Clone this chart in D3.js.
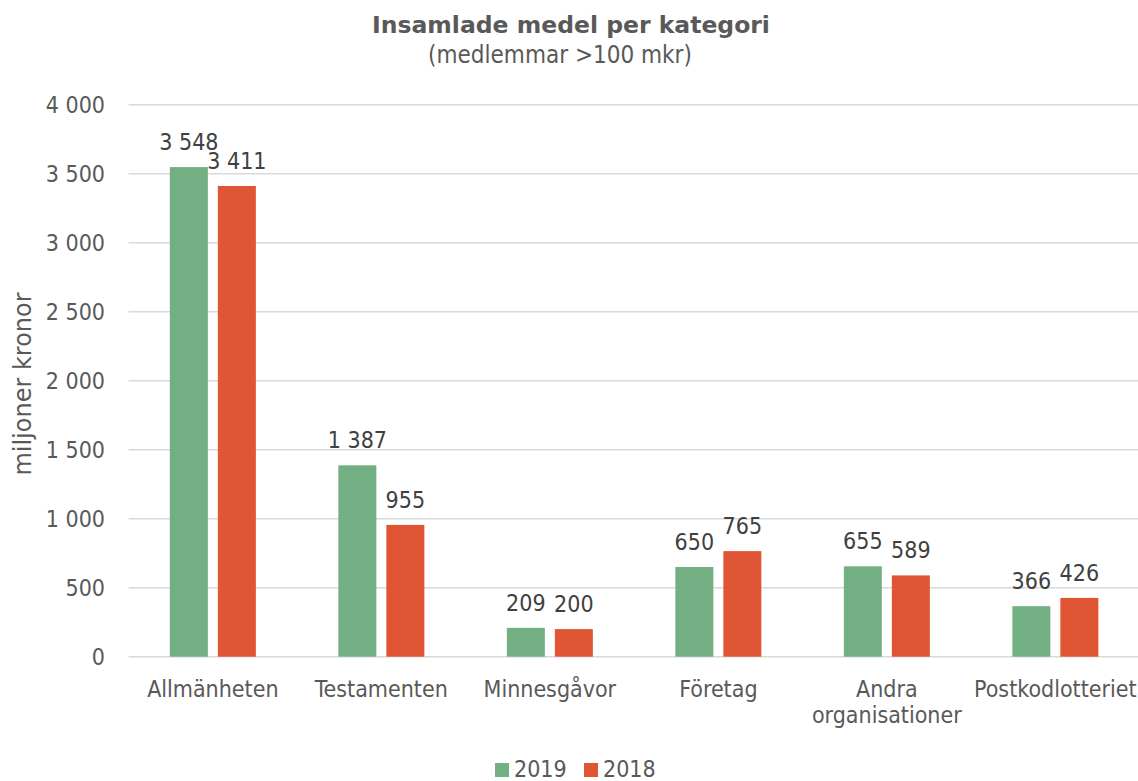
<!DOCTYPE html>
<html>
<head>
<meta charset="utf-8">
<script src="https://cdn.jsdelivr.net/npm/d3@7"></script>
<style>
  html, body { margin: 0; padding: 0; background: #ffffff; }
  svg { display: block; }
  text { font-family: "DejaVu Sans Condensed", "DejaVu Sans", sans-serif; }
  text.wide { font-family: "DejaVu Sans", sans-serif; }
</style>
</head>
<body>
<svg id="chart" width="1138" height="781"></svg>
<script>
// Fundraising per category, million SEK
const categories = ["Allmänheten", "Testamenten", "Minnesgåvor", "Företag", "Andra organisationer", "Postkodlotteriet"];
const seriesNames = ["2019", "2018"];
const values2019 = [3548, 1387, 209, 650, 655, 366];
const values2018 = [3411, 955, 200, 765, 589, 426];
const yTicks = [0, 500, 1000, 1500, 2000, 2500, 3000, 3500, 4000];
const colors = ["#72b083", "#e05533"];

const svg = d3.select("#chart");
const W = 1138, H = 781;
const plot = { left: 128.6, right: 1139.6, top: 104.7, bottom: 656.7 };

const fmt = v => d3.format(",")(v).replace(/,/g, " ");

const y = d3.scaleLinear().domain([0, 4000]).range([plot.bottom, plot.top]);
const x0 = d3.scaleBand().domain(categories).range([plot.left, plot.right])
  .paddingInner(0.4896).paddingOuter(0.2448);
const x1 = d3.scaleBand().domain(seriesNames).range([0, x0.bandwidth()]).paddingInner(0.2083);

// Gridlines
svg.append("g").selectAll("line").data(yTicks).join("line")
  .attr("x1", plot.left).attr("x2", W)
  .attr("y1", d => y(d)).attr("y2", d => y(d))
  .attr("stroke", "#d9d9d9").attr("stroke-width", 1.5);

// Y tick labels
const yAxis = d3.axisLeft(y).tickValues(yTicks).tickFormat(fmt).tickSize(0).tickPadding(0);
const gy = svg.append("g").attr("transform", "translate(105,0)").call(yAxis);
gy.select(".domain").remove();
gy.attr("font-family", null).attr("font-size", null);
gy.selectAll("text").attr("font-size", 23).attr("fill", "#595959");

// Y axis title
svg.append("text").attr("class", "wide")
  .attr("transform", `translate(31,384) rotate(-90)`)
  .attr("text-anchor", "middle")
  .attr("font-size", 24).attr("fill", "#595959")
  .text("miljoner kronor");

// Bars
const rows = categories.map((c, i) => ({ cat: c, vals: [values2019[i], values2018[i]] }));
const groups = svg.append("g").selectAll("g").data(rows).join("g")
  .attr("transform", d => `translate(${x0(d.cat)},0)`);

groups.selectAll("rect").data(d => d.vals.map((v, k) => ({ key: seriesNames[k], v, k })))
  .join("rect")
  .attr("x", d => x1(d.key))
  .attr("width", x1.bandwidth())
  .attr("y", d => y(d.v))
  .attr("height", d => y(0) - y(d.v))
  .attr("fill", d => colors[d.k]);

// Value labels
groups.selectAll("text.val").data(d => d.vals.map((v, k) => ({ key: seriesNames[k], v, k })))
  .join("text").attr("class", "val")
  .attr("x", d => x1(d.key) + x1.bandwidth() / 2)
  .attr("y", d => y(d.v) - 17)
  .attr("text-anchor", "middle")
  .attr("font-size", 23).attr("fill", "#404040")
  .text(d => fmt(d.v));

// Category labels (wrapped where needed)
const catLines = { "Andra organisationer": ["Andra", "organisationer"] };
const gx = svg.append("g");
categories.forEach(c => {
  const lines = catLines[c] || [c];
  const t = gx.append("text")
    .attr("x", x0(c) + x0.bandwidth() / 2)
    .attr("y", 697)
    .attr("text-anchor", "middle")
    .attr("font-size", 23).attr("fill", "#595959");
  lines.forEach((l, i) => {
    t.append("tspan").attr("x", x0(c) + x0.bandwidth() / 2)
      .attr("dy", i === 0 ? 0 : 26).text(l);
  });
});

// Title
svg.append("text").attr("class", "wide").attr("x", 571).attr("y", 33).attr("text-anchor", "middle")
  .attr("font-size", 23.5).attr("font-weight", "bold").attr("fill", "#595959")
  .text("Insamlade medel per kategori");
svg.append("text").attr("x", 560).attr("y", 63).attr("text-anchor", "middle")
  .attr("font-size", 24).attr("fill", "#595959")
  .text("(medlemmar >100 mkr)");

// Legend
const legend = svg.append("g");
const legendX = [495, 584];
seriesNames.forEach((s, i) => {
  legend.append("rect").attr("x", legendX[i]).attr("y", 763)
    .attr("width", 14).attr("height", 14).attr("fill", colors[i]);
  legend.append("text").attr("x", legendX[i] + 19).attr("y", 777)
    .attr("font-size", 23).attr("fill", "#595959").text(s);
});
</script>
</body>
</html>
